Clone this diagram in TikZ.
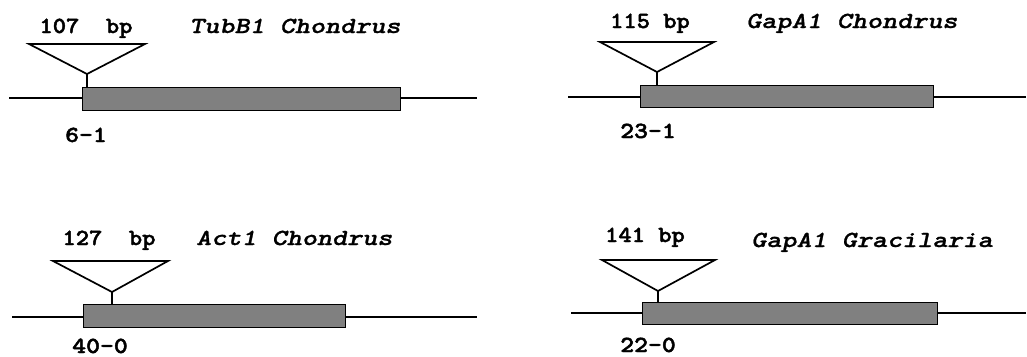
\documentclass[tikz,border=0pt]{standalone}
\usepackage{fontspec}
\newfontfamily\bpfont{lmmonolt10-bold.otf}[FakeStretch=1.1,FakeBold=2]
\newfontfamily\genefont{lmmonolt10-boldoblique.otf}[FakeStretch=1.25,FakeBold=1]
\newfontfamily\clonefont{lmmonolt10-bold.otf}[FakeStretch=1.15,FakeBold=2]
\begin{document}
\begin{tikzpicture}[x=1pt,y=-1pt,
  dna/.style={line width=1.7pt},
  exon/.style={draw=black,line width=1.4pt,fill=black!50},
  intron/.style={draw=black,line width=1.7pt,fill=white,line join=miter},
  bplabel/.style={font=\bpfont\fontsize{23}{23}\selectfont,inner sep=0pt,anchor=base},
  genelabel/.style={font=\genefont\fontsize{23}{23}\selectfont,inner sep=0pt,anchor=base west},
  clonelabel/.style={font=\clonefont\fontsize{23}{23}\selectfont,inner sep=0pt,anchor=base}]
\useasboundingbox (0,0) rectangle (1027,356);

% ---- Panel 1: TubB1 Chondrus
\coordinate (l1a) at (9,98);
\coordinate (l1b) at (477,98);
\draw[dna] (l1a) -- (l1b);
\node[exon,minimum width=318pt,minimum height=23pt,inner sep=0pt,anchor=north west] (e1) at (82,87) {};
\coordinate (t1a) at (29,44);
\coordinate (t1b) at (145,44);
\coordinate (t1c) at (87,74);
\coordinate (s1) at (87,87);
\draw[intron] (t1a) -- (t1b) -- (t1c) -- cycle;
\draw[dna] (t1c) -- (s1);
\node[bplabel] (bp1) at (86,33) {107\ \ bp};
\node[genelabel] (g1) at (189,33) {TubB1 Chondrus};
\node[clonelabel] (c1) at (86,142) {6-1};

% ---- Panel 2: GapA1 Chondrus
\coordinate (l2a) at (568,97);
\coordinate (l2b) at (1026,97);
\draw[dna] (l2a) -- (l2b);
\node[exon,minimum width=293pt,minimum height=22pt,inner sep=0pt,anchor=north west] (e2) at (640,85) {};
\coordinate (t2a) at (600,42);
\coordinate (t2b) at (714,42);
\coordinate (t2c) at (657,72);
\coordinate (s2) at (657,85);
\draw[intron] (t2a) -- (t2b) -- (t2c) -- cycle;
\draw[dna] (t2c) -- (s2);
\node[bplabel] (bp2) at (650,28) {115 bp};
\node[genelabel] (g2) at (746,28) {GapA1 Chondrus};
\node[clonelabel] (c2) at (648,138) {23-1};

% ---- Panel 3: Act1 Chondrus
\coordinate (l3a) at (12,317);
\coordinate (l3b) at (477,317);
\draw[dna] (l3a) -- (l3b);
\node[exon,minimum width=262pt,minimum height=23pt,inner sep=0pt,anchor=north west] (e3) at (83,304) {};
\coordinate (t3a) at (53,261);
\coordinate (t3b) at (168,261);
\coordinate (t3c) at (112,292);
\coordinate (s3) at (112,304);
\draw[intron] (t3a) -- (t3b) -- (t3c) -- cycle;
\draw[dna] (t3c) -- (s3);
\node[bplabel] (bp3) at (109,245) {127\ \ bp};
\node[genelabel] (g3) at (196,245) {Act1 Chondrus};
\node[clonelabel] (c3) at (100,353) {40-0};

% ---- Panel 4: GapA1 Gracilaria
\coordinate (l4a) at (571,313);
\coordinate (l4b) at (1026,313);
\draw[dna] (l4a) -- (l4b);
\node[exon,minimum width=295pt,minimum height=22pt,inner sep=0pt,anchor=north west] (e4) at (642,302) {};
\coordinate (t4a) at (602,260);
\coordinate (t4b) at (715,260);
\coordinate (t4c) at (658,291);
\coordinate (s4) at (658,302);
\draw[intron] (t4a) -- (t4b) -- (t4c) -- cycle;
\draw[dna] (t4c) -- (s4);
\node[bplabel] (bp4) at (645,242) {141 bp};
\node[genelabel] (g4) at (751,247) {GapA1 Gracilaria};
\node[clonelabel] (c4) at (648,352) {22-0};
\end{tikzpicture}
\end{document}
